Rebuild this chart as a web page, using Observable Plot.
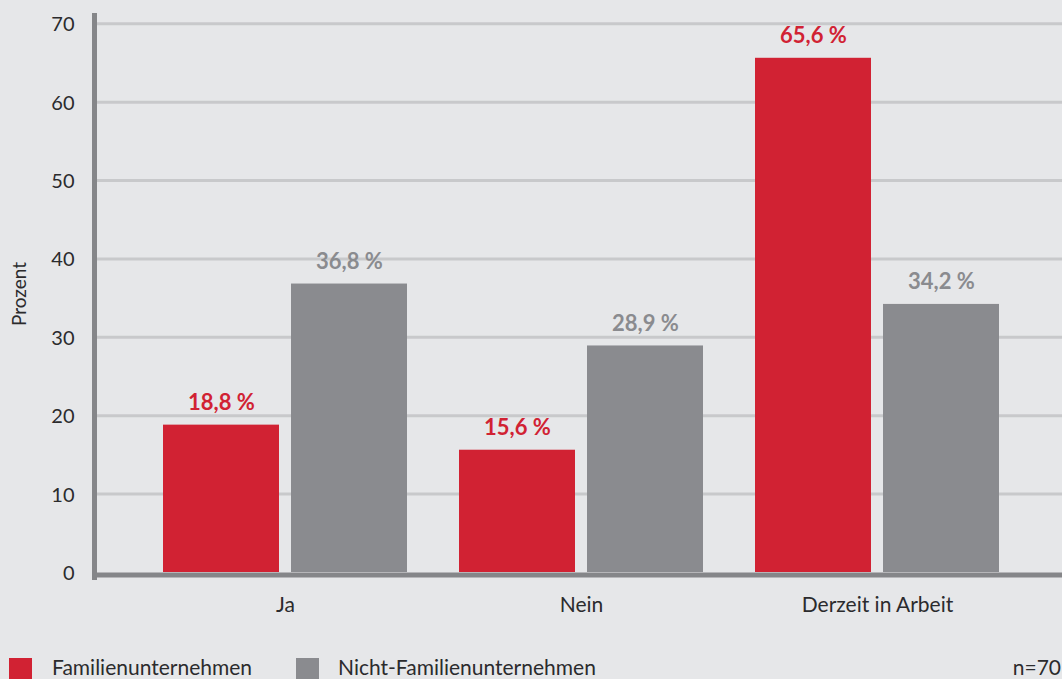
<!DOCTYPE html>
<html>
<head>
<meta charset="utf-8">
<script src="https://cdn.jsdelivr.net/npm/d3@7"></script>
<script src="https://cdn.jsdelivr.net/npm/@observablehq/plot@0.6"></script>
<style>
  html, body { margin: 0; padding: 0; background: #e6e7e9; overflow: hidden; }
  body { width: 1062px; height: 679px; font-family: Lato, sans-serif; color: #2b2b2d; }
  #legend { position: relative; height: 39px; font-size: 21px; }
  #legend .sw { position: absolute; top: 18px; width: 23px; height: 23px; }
  #legend .lb { position: absolute; top: 15px; line-height: 24px; white-space: nowrap; }
</style>
</head>
<body>
<div id="chart"></div>
<div id="legend"></div>
<script>
const categories = ["Ja", "Nein", "Derzeit in Arbeit"];
const seriesNames = ["Familienunternehmen", "Nicht-Familienunternehmen"];
const familien = [18.8, 15.6, 65.6];
const nichtFamilien = [36.8, 28.9, 34.2];
const yTicks = [0, 10, 20, 30, 40, 50, 60, 70];
const sampleNote = "n=70";

const red = "#d12233";
const gray = "#8a8b8f";

const famData = categories.map((c, i) => ({cat: c, value: familien[i]}));
const nichtData = categories.map((c, i) => ({cat: c, value: nichtFamilien[i]}));
const fmt = v => v.toFixed(1).replace(".", ",") + " %";

const chart = Plot.plot({
  width: 1062,
  height: 640,
  marginLeft: 94,
  marginRight: 0,
  marginTop: 15,
  marginBottom: 68,
  style: {background: "#e6e7e9", fontFamily: "Lato, sans-serif", color: "#2b2b2d"},
  x: {domain: categories, paddingInner: 0.1351, paddingOuter: 0.2009, align: 0.521, label: null},
  y: {domain: [0, 70], insetTop: 8.3, label: null},
  marks: [
    Plot.gridY(yTicks.filter(t => t > 0), {stroke: "#c8c9cb", strokeWidth: 3, strokeOpacity: 1}),
    Plot.barY(famData, {x: "cat", y: "value", fill: red, insetLeft: 6, insetRight: 134}),
    Plot.barY(nichtData, {x: "cat", y: "value", fill: gray, insetLeft: 134, insetRight: 6}),
    Plot.ruleY([0], {stroke: "#858689", strokeWidth: 5, dy: 2.5}),
    Plot.frame({anchor: "left", stroke: "#858689", strokeWidth: 5, insetBottom: -5}),
    Plot.text(famData, {x: "cat", y: "value", text: d => fmt(d.value), dx: -64, dy: -15, lineAnchor: "bottom", fill: red, fontWeight: "bold", fontSize: 22}),
    Plot.text(nichtData, {x: "cat", y: "value", text: d => fmt(d.value), dx: 64, dy: -15, lineAnchor: "bottom", fill: gray, fontWeight: "bold", fontSize: 22}),
    Plot.axisY({ticks: yTicks, tickSize: 0, tickPadding: 20, dy: 1, fontSize: 20, label: "Prozent", labelAnchor: "center", labelOffset: 82, labelArrow: "none"}),
    Plot.axisX({tickSize: 0, tickPadding: 25, fontSize: 21, label: null})
  ]
});
chart.querySelectorAll("[aria-label='y-axis label'] text, g[aria-label='y-axis label']").forEach(e => e.setAttribute("font-size", 19));
document.getElementById("chart").appendChild(chart);

const legend = document.getElementById("legend");
const items = [
  {name: seriesNames[0], color: red, sx: 9, tx: 52},
  {name: seriesNames[1], color: gray, sx: 296, tx: 338}
];
items.forEach(it => {
  const sw = document.createElement("div");
  sw.className = "sw"; sw.style.left = it.sx + "px"; sw.style.background = it.color;
  legend.appendChild(sw);
  const lb = document.createElement("div");
  lb.className = "lb"; lb.style.left = it.tx + "px"; lb.textContent = it.name;
  legend.appendChild(lb);
});
const n = document.createElement("div");
n.className = "lb"; n.style.right = "1px"; n.textContent = sampleNote;
legend.appendChild(n);
</script>
</body>
</html>
